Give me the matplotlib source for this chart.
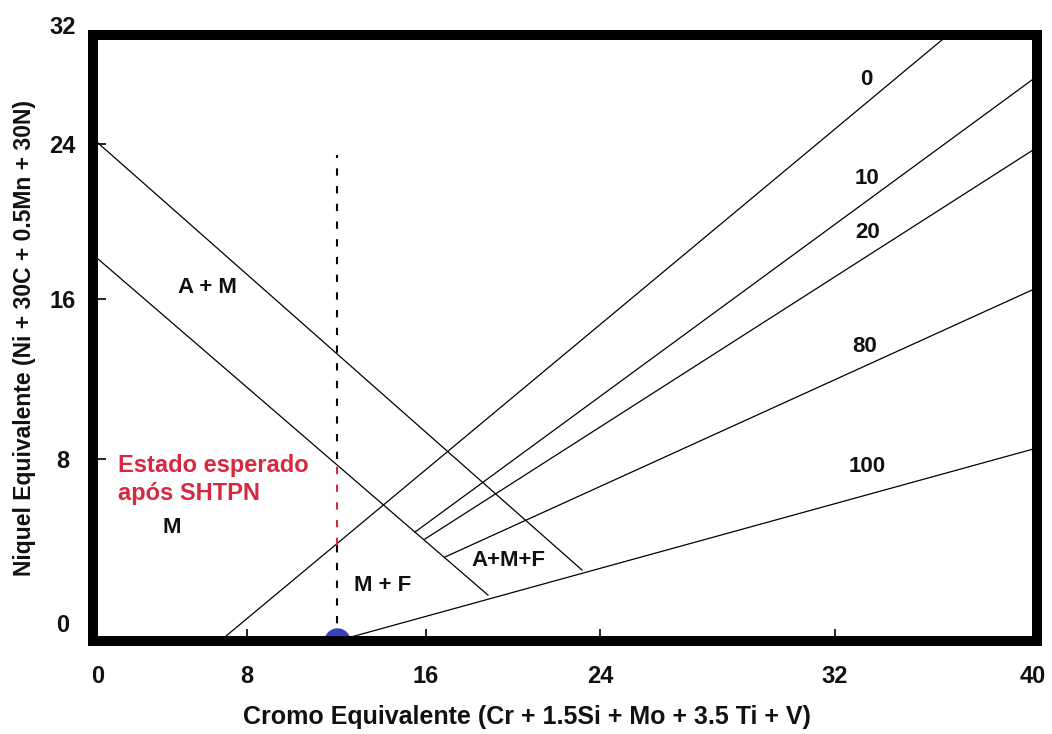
import numpy as np
import matplotlib
matplotlib.use("Agg")
import matplotlib.pyplot as plt
from matplotlib.transforms import ScaledTranslation

plt.rcParams['font.family'] = ['Liberation Sans', 'DejaVu Sans']

# axis ticks and where they sit along the (hand drawn, uneven) axes
cr_ticks = [0, 8, 16, 24, 32, 40]
cr_knots = [0, 154, 333, 507, 742, 944]
ni_ticks = [0, 8, 16, 24, 32]
ni_knots = [0, 182, 342, 497, 606]

# phase boundaries A+M / M
am_upper_x = [0, 23.17]
am_upper_y = [24.4, 3.12]
am_lower_x = [0, 18.85]
am_lower_y = [18.29, 2.02]

# iso-ferrite lines (% ferrite)
ferrite_pct = ['0', '10', '20', '80', '100']
ferrite_x0 = [6.6, 15.51, 15.95, 16.87, 12.0]
ferrite_y0 = [0.0, 4.79, 4.48, 3.69, 0.0]
ferrite_x1 = [36.47, 40.0, 40.0, 40.0, 40.0]
ferrite_y1 = [32.0, 28.97, 23.82, 16.58, 8.55]
ferrite_lbl_x = [33.23, 33.27, 33.3, 33.19, 33.27]
ferrite_lbl_y = [28.7, 22.24, 19.41, 13.6, 7.65]

# regions
region_names = ['A + M', 'M', 'M + F', 'A+M+F']
region_x = [5.97, 4.10, 14.08, 19.77]
region_y = [16.57, 4.97, 2.42, 3.56]

# expected state after SHTPN
cr_point = 12.0
ni_point = 0.0
guide_top = 23.43
red_from, red_to = 4.2, 8.0


def piecewise(src, dst):
    src = np.asarray(src, float)
    dst = np.asarray(dst, float)
    s0 = (dst[1] - dst[0]) / (src[1] - src[0])
    s1 = (dst[-1] - dst[-2]) / (src[-1] - src[-2])

    def f(v):
        v = np.asarray(v, float)
        out = np.interp(v, src, dst)
        out = np.where(v < src[0], dst[0] + (v - src[0]) * s0, out)
        out = np.where(v > src[-1], dst[-1] + (v - src[-1]) * s1, out)
        return out
    return f


fig = plt.figure(figsize=(10.52, 7.34), dpi=100)
ax = fig.add_axes([93 / 1052, 93 / 734, 944 / 1052, 606 / 734])

ax.set_xscale('function', functions=(piecewise(cr_ticks, cr_knots), piecewise(cr_knots, cr_ticks)))
ax.set_yscale('function', functions=(piecewise(ni_ticks, ni_knots), piecewise(ni_knots, ni_ticks)))
ax.set_xlim(0, 40)
ax.set_ylim(0, 32)

lw = 0.9
ax.plot(am_upper_x, am_upper_y, color='black', lw=lw)
ax.plot(am_lower_x, am_lower_y, color='black', lw=lw)
for i in range(len(ferrite_pct)):
    ax.plot([ferrite_x0[i], ferrite_x1[i]], [ferrite_y0[i], ferrite_y1[i]], color='black', lw=lw)
    ax.text(ferrite_lbl_x[i], ferrite_lbl_y[i], ferrite_pct[i], ha='center', va='center',
            fontsize=16, fontweight='bold', color='#111111')

for name, x, y in zip(region_names, region_x, region_y):
    ax.text(x, y, name, ha='center', va='center', fontsize=16, fontweight='bold', color='#111111')

# dashed guide at the expected composition (red where it passes the note)
dash = (0, (3.5, 5))
ax.plot([cr_point, cr_point], [red_to, guide_top], color='black', lw=1.5, ls=dash)
ax.plot([cr_point, cr_point], [red_from, red_to], color='#d8283f', lw=1.5, ls=dash)
ax.plot([cr_point, cr_point], [ni_point, red_from], color='black', lw=1.5, ls=dash)
ax.plot([cr_point], [ni_point], 'o', color='#3a3fc0', ms=18, zorder=2.2)

ax.text(1.3, 7.1, 'Estado esperado\napós SHTPN', ha='left', va='center', fontsize=17,
        fontweight='bold', color='#d8283f', linespacing=1.25)

for s in ax.spines.values():
    s.set_linewidth(7.2)
    s.set_color('black')

ax.set_xticks(cr_ticks, [str(v) for v in cr_ticks])
ax.set_yticks(ni_ticks, [str(v) for v in ni_ticks])
ax.minorticks_off()
ax.tick_params(axis='both', direction='in', length=9, width=1.2, labelsize=17, colors='black')
ax.tick_params(axis='x', pad=17)
ax.tick_params(axis='y', pad=22)
for lab in ax.get_xticklabels() + ax.get_yticklabels():
    lab.set_fontweight('bold')
    lab.set_color('#111111')
for lab in ax.get_yticklabels():
    lab.set_horizontalalignment('center')

# the outer labels sit a little off their ticks
yt = ax.yaxis.get_major_ticks()
for tick, dy in [(yt[0], 0.18), (yt[-1], 0.10)]:
    tick.label1.set_transform(tick.label1.get_transform() + ScaledTranslation(0, dy, fig.dpi_scale_trans))
xt = ax.xaxis.get_major_ticks()
for tick, dx in [(xt[0], 0.05), (xt[-1], -0.04)]:
    tick.label1.set_transform(tick.label1.get_transform() + ScaledTranslation(dx, 0, fig.dpi_scale_trans))

ax.set_xlabel('Cromo Equivalente (Cr + 1.5Si + Mo + 3.5 Ti + V)', fontsize=18, fontweight='bold',
              color='#111111')
ax.set_ylabel('Niquel Equivalente (Ni + 30C + 0.5Mn + 30N)', fontsize=16.5, fontweight='bold',
              color='#111111')
ax.xaxis.set_label_coords(0.46, -0.106)
ax.yaxis.set_label_coords(-0.06, 0.5)

fig.savefig('out.png', dpi=100)
